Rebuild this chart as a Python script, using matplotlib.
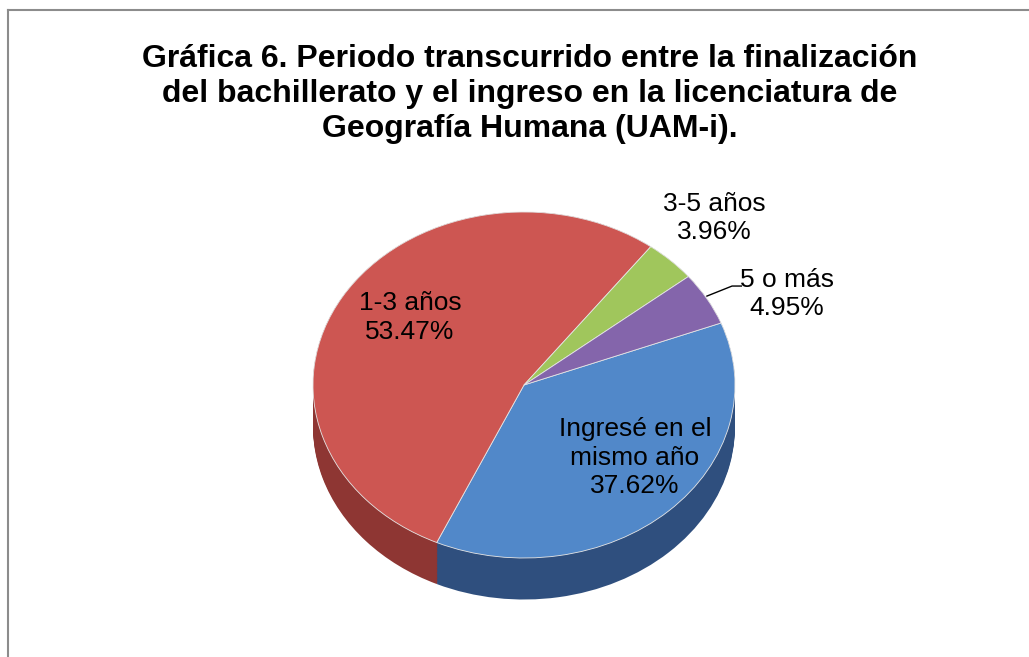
import matplotlib.pyplot as plt
from matplotlib.lines import Line2D

plt.rcParams['font.family'] = ['Liberation Sans', 'DejaVu Sans']

labels = ['Ingresé en el\nmismo año', '1-3 años', '3-5 años', '5 o más']
values = [37.62, 53.47, 3.96, 4.95]
colors = ['#5188c9', '#cd5652', '#a0c65c', '#8465ab']
side_colors = ['#2f4f7e', '#8e3633', '#66803a', '#54416f']

fig = plt.figure(figsize=(10.29, 6.57), dpi=100)
ax = fig.add_axes([0, 0, 1, 1])

# pseudo 3D: stack darker copies of the pie downward for the side
depth = 0.24
n = 30
for i in range(n):
    d = depth * (1 - i / (n - 1))
    ax.pie(values, colors=side_colors, startangle=21, counterclock=False,
           center=(0, -d), radius=1, wedgeprops=dict(linewidth=0))

ax.pie(values, colors=colors, startangle=21, counterclock=False,
       radius=1, wedgeprops=dict(edgecolor='#e6e6e6', linewidth=0.6))

ax.set_aspect('auto')
ax.set_xlim(-524 / 211, 505 / 211)
ax.set_ylim(-272 / 173, 385 / 173)
ax.axis('off')

# data labels
txt = [f'{l}\n{v:.2f}%' for l, v in zip(labels, values)]
pos = [(0.526, -0.42), (-0.54, 0.39), (0.90, 0.965), (1.245, 0.526)]
for t, (x, y) in zip(txt, pos):
    ax.text(x, y, t, ha='center', va='center', fontsize=19, color='black',
            linespacing=1.25)
ax.plot([0.867, 0.986, 1.03], [0.514, 0.572, 0.572], color='black', lw=1)

fig.text(0.515, 1 - 94 / 657,
         'Gráfica 6. Periodo transcurrido entre la finalización\n'
         'del bachillerato y el ingreso en la licenciatura de\n'
         'Geografía Humana (UAM-i).',
         ha='center', va='center', fontsize=23, fontweight='bold',
         linespacing=1.22)

# chart border
fig.add_artist(Line2D([8 / 1029, 1], [1 - 10 / 657, 1 - 10 / 657],
                      color='#8c8c8c', lw=1.5))
fig.add_artist(Line2D([8 / 1029, 8 / 1029], [0, 1 - 10 / 657],
                      color='#8c8c8c', lw=1.5))

fig.savefig('out.png', dpi=100)
